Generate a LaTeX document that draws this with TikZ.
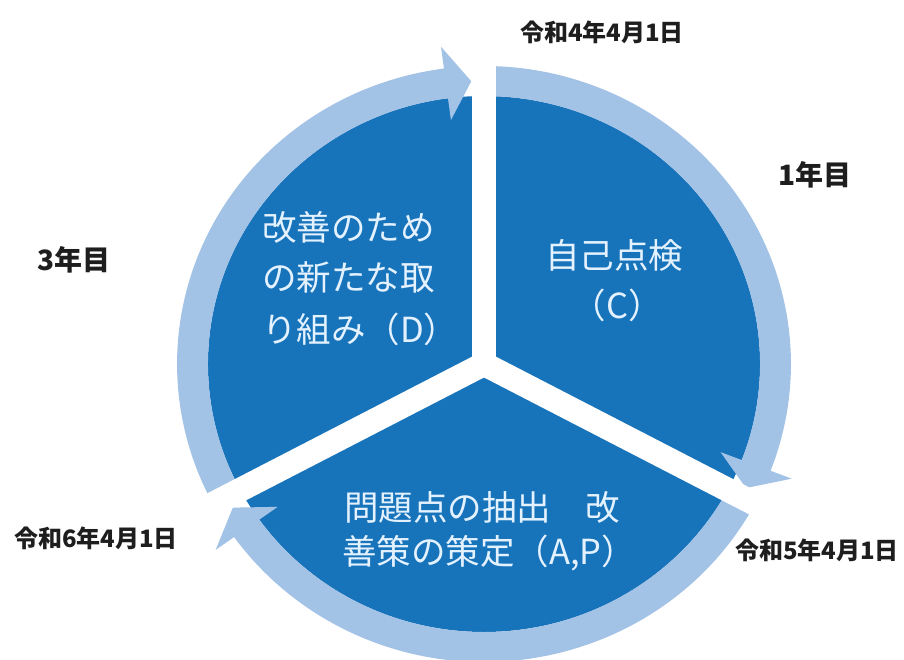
\documentclass[tikz,border=0pt]{standalone}
\usepackage{fontspec}
\newfontfamily\jp{Noto Sans CJK JP}
\definecolor{darkblue}{RGB}{24,116,186}
\definecolor{lightblue}{RGB}{162,194,230}
\definecolor{sectortext}{RGB}{228,242,255}
\definecolor{labeltext}{RGB}{30,30,30}
\tikzset{
  ringpart/.style={fill=lightblue},
  gapband/.style={draw=white, line width=24pt},
  inner/.style={text=sectortext, font=\jp\fontsize{34.5}{40}\selectfont, inner sep=0pt},
  datelabel/.style={text=labeltext, font=\jp\bfseries\fontsize{24}{27}\selectfont, inner sep=0pt},
  yearlabel/.style={text=labeltext, font=\jp\bfseries\fontsize{28}{32}\selectfont, inner sep=0pt}
}
\begin{document}
\begin{tikzpicture}[x=1pt,y=1pt]
\useasboundingbox (0,0) rectangle (904,660);
\fill[white] (0,0) rectangle (904,660);
\begin{scope}[shift={(484,296)}, xscale=1.03]
  \fill[darkblue] (0,0) circle (268);
  % ring of sector C (top right)
  \fill[ringpart] (90:298) arc[start angle=90, end angle=-21, radius=298]
     -- (-21:320) -- (-26:283) -- (-21:246) -- (-21:268)
     arc[start angle=-21, end angle=90, radius=268] -- cycle;
  % ring of sector A,P (bottom)
  \fill[ringpart] (-28:298) arc[start angle=-28, end angle=-144.5, radius=298]
     -- (-144.5:320) -- (-149.5:283) -- (-144.5:246) -- (-144.5:268)
     arc[start angle=-144.5, end angle=-28, radius=268] -- cycle;
  % ring of sector D (left)
  \fill[ringpart] (208:298) arc[start angle=208, end angle=97.5, radius=298]
     -- (97.5:320) -- (92.5:283) -- (97.5:246) -- (97.5:268)
     arc[start angle=97.5, end angle=208, radius=268] -- cycle;
  % white gaps
  \draw[gapband] (0,0) -- (90:345);
  \draw[gapband] (0,0) -- (-28:345);
  \draw[gapband] (0,0) -- (208:345);
\end{scope}
% sector texts
\node[inner, anchor=west] (d1) at (262,433) {改善のため};
\node[inner, anchor=west] (d2) at (262,382) {の新たな取};
\node[inner, anchor=west] (d3) at (262,331) {り組み（D）};
\node[inner] (c1) at (614,405) {自己点検};
\node[inner] (c2) at (617,355) {（C）};
\node[inner, anchor=west] (a1) at (344,153) {問題点の抽出　改};
\node[inner, anchor=west] (a2) at (342,107) {善策の策定（A,P）};
% labels
\node[datelabel] (r4) at (602,628) {令和4年4月1日};
\node[datelabel] (r5) at (817,110) {令和5年4月1日};
\node[datelabel] (r6) at (96,122) {令和6年4月1日};
\node[yearlabel] (y1) at (815,485) {1年目};
\node[yearlabel] (y3) at (74,400) {3年目};
\end{tikzpicture}
\end{document}
